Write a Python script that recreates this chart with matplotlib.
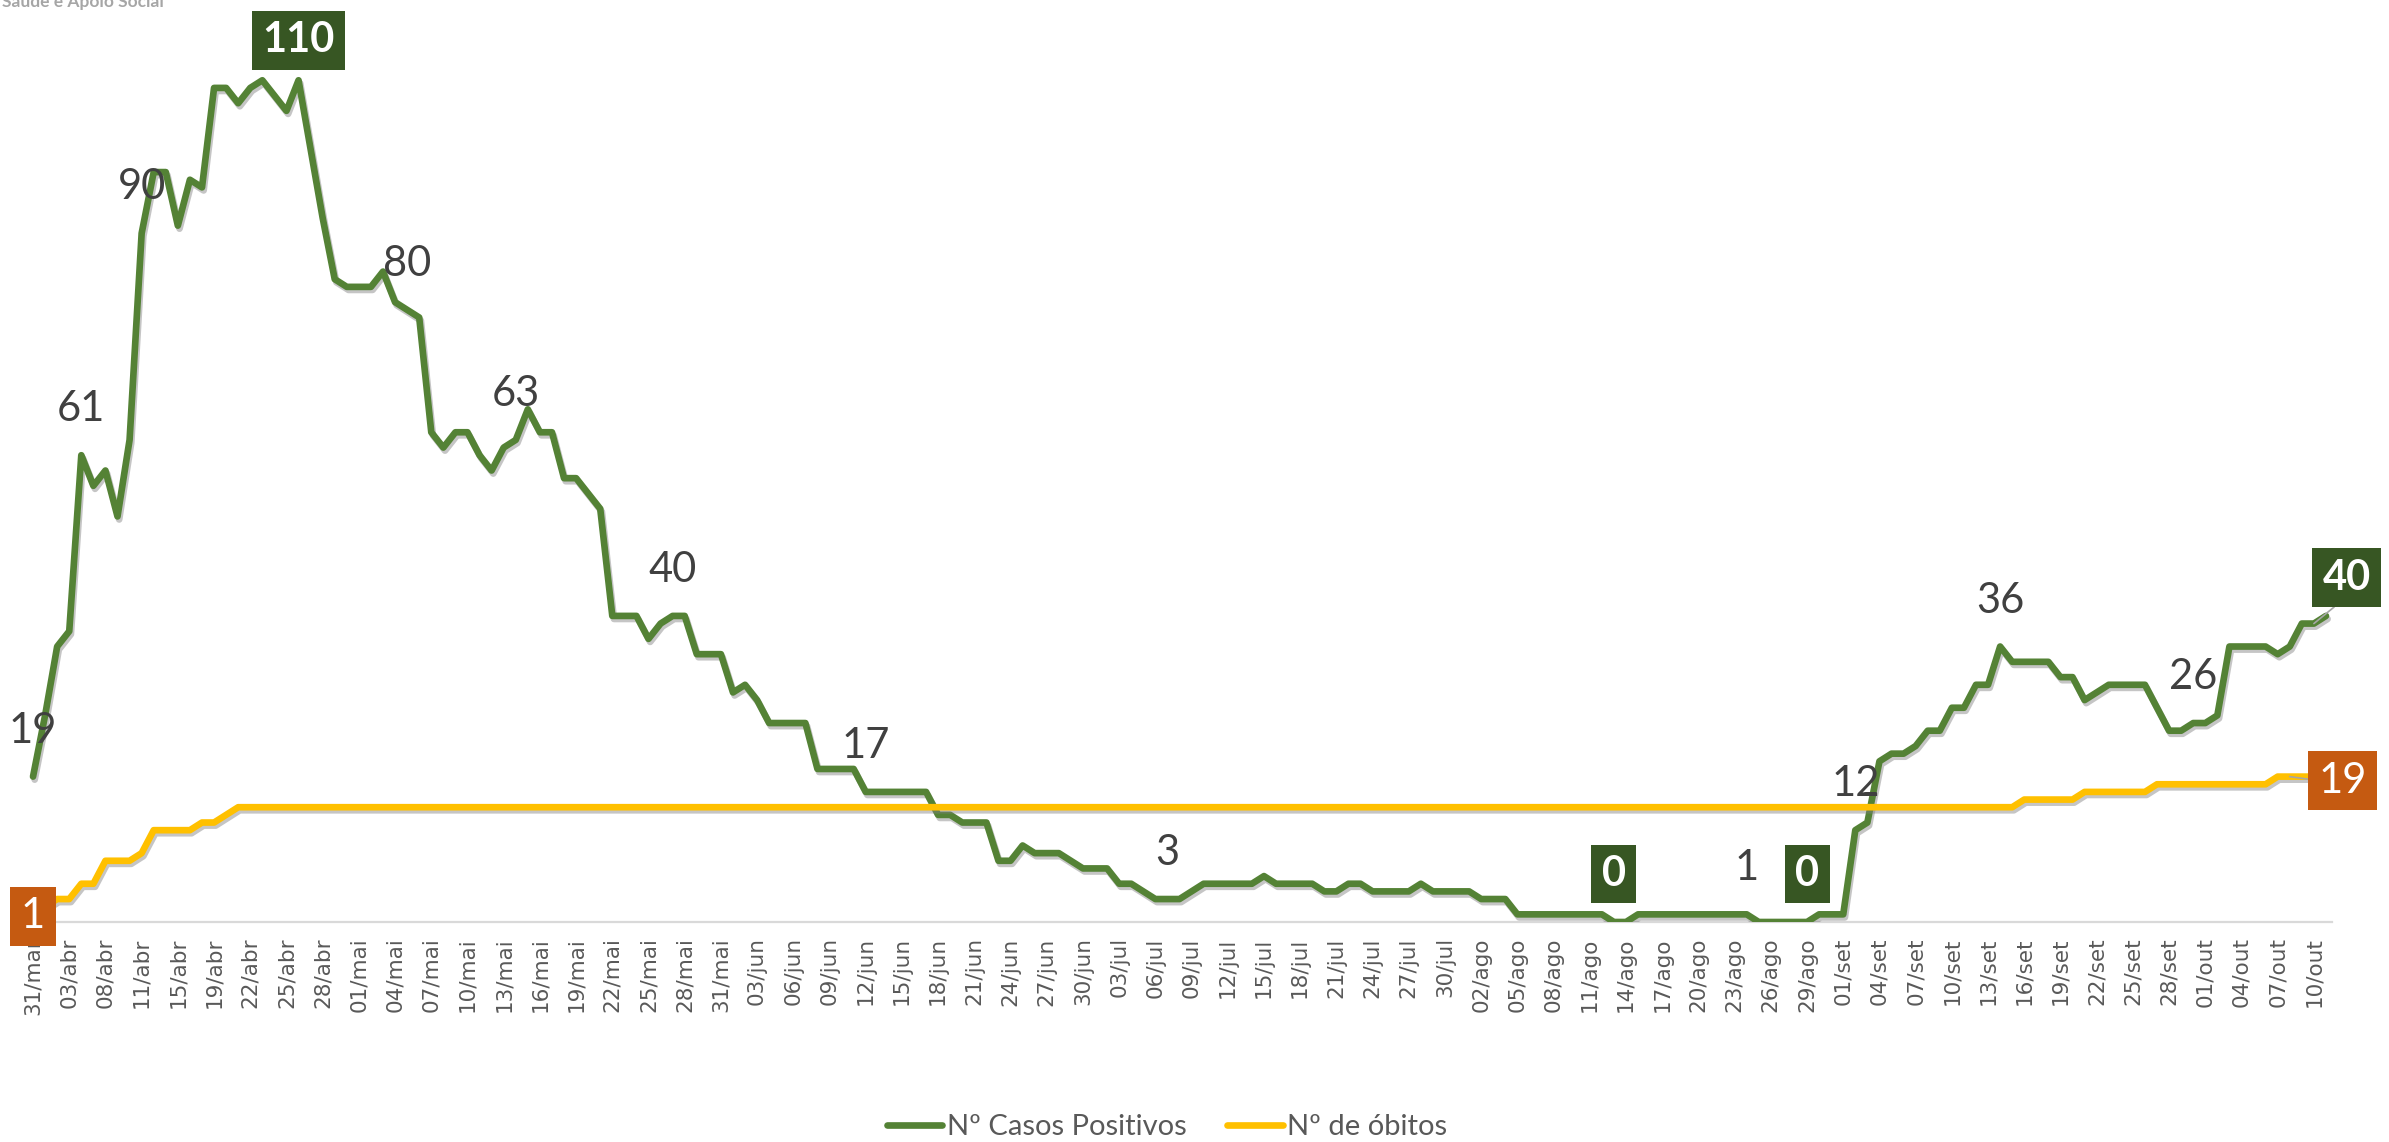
import numpy as np
import matplotlib
matplotlib.use('Agg')
import matplotlib.pyplot as plt
import matplotlib.patheffects as pe
from matplotlib.lines import Line2D

### Data (one point per reported day, 31/mar .. 11/out)
tick_labels = ['31/mar', '03/abr', '08/abr', '11/abr', '15/abr', '19/abr', '22/abr', '25/abr',
               '28/abr', '01/mai', '04/mai', '07/mai', '10/mai', '13/mai', '16/mai', '19/mai',
               '22/mai', '25/mai', '28/mai', '31/mai', '03/jun', '06/jun', '09/jun', '12/jun',
               '15/jun', '18/jun', '21/jun', '24/jun', '27/jun', '30/jun', '03/jul', '06/jul',
               '09/jul', '12/jul', '15/jul', '18/jul', '21/jul', '24/jul', '27/jul', '30/jul',
               '02/ago', '05/ago', '08/ago', '11/ago', '14/ago', '17/ago', '20/ago', '23/ago',
               '26/ago', '29/ago', '01/set', '04/set', '07/set', '10/set', '13/set', '16/set',
               '19/set', '22/set', '25/set', '28/set', '01/out', '04/out', '07/out', '10/out']

casos = [19, 27, 36, 38, 61, 57, 59, 53, 63, 90,
         98, 98, 91, 97, 96, 109, 109, 107, 109, 110,
         108, 106, 110, 101, 92, 84, 83, 83, 83, 85,
         81, 80, 79, 64, 62, 64, 64, 61, 59, 62,
         63, 67, 64, 64, 58, 58, 56, 54, 40, 40,
         40, 37, 39, 40, 40, 35, 35, 35, 30, 31,
         29, 26, 26, 26, 26, 20, 20, 20, 20, 17,
         17, 17, 17, 17, 17, 14, 14, 13, 13, 13,
         8, 8, 10, 9, 9, 9, 8, 7, 7, 7,
         5, 5, 4, 3, 3, 3, 4, 5, 5, 5,
         5, 5, 6, 5, 5, 5, 5, 4, 4, 5,
         5, 4, 4, 4, 4, 5, 4, 4, 4, 4,
         3, 3, 3, 1, 1, 1, 1, 1, 1, 1,
         1, 0, 0, 1, 1, 1, 1, 1, 1, 1,
         1, 1, 1, 0, 0, 0, 0, 0, 1, 1,
         1, 12, 13, 21, 22, 22, 23, 25, 25, 28,
         28, 31, 31, 36, 34, 34, 34, 34, 32, 32,
         29, 30, 31, 31, 31, 31, 28, 25, 25, 26,
         26, 27, 36, 36, 36, 36, 35, 36, 39, 39,
         40]

obitos = [1, 2, 3, 3, 5, 5, 8, 8, 8, 9,
          12, 12, 12, 12, 13, 13, 14, 15, 15, 15,
          15, 15, 15, 15, 15, 15, 15, 15, 15, 15,
          15, 15, 15, 15, 15, 15, 15, 15, 15, 15,
          15, 15, 15, 15, 15, 15, 15, 15, 15, 15,
          15, 15, 15, 15, 15, 15, 15, 15, 15, 15,
          15, 15, 15, 15, 15, 15, 15, 15, 15, 15,
          15, 15, 15, 15, 15, 15, 15, 15, 15, 15,
          15, 15, 15, 15, 15, 15, 15, 15, 15, 15,
          15, 15, 15, 15, 15, 15, 15, 15, 15, 15,
          15, 15, 15, 15, 15, 15, 15, 15, 15, 15,
          15, 15, 15, 15, 15, 15, 15, 15, 15, 15,
          15, 15, 15, 15, 15, 15, 15, 15, 15, 15,
          15, 15, 15, 15, 15, 15, 15, 15, 15, 15,
          15, 15, 15, 15, 15, 15, 15, 15, 15, 15,
          15, 15, 15, 15, 15, 15, 15, 15, 15, 15,
          15, 15, 15, 15, 15, 16, 16, 16, 16, 16,
          17, 17, 17, 17, 17, 17, 18, 18, 18, 18,
          18, 18, 18, 18, 18, 18, 19, 19, 19, 19,
          19]

# which points carry a data label
plain_labels = [0, 4, 9, 31, 40, 53, 69, 94, 142, 151, 163, 179]
boxed_labels = [22, 131, 147]

### Colours
green = '#548235'
green_dark = '#375623'
yellow = '#FFC000'
orange = '#C55A11'
txt_grey = '#404040'
tick_grey = '#595959'

W, H = 2389, 1142
fig = plt.figure(figsize=(W/100, H/100), dpi=100)
ax = fig.add_axes([27/W, 220/H, 2305/W, 880/H])

x = np.arange(len(casos))
shadow = [pe.SimpleLineShadow(offset=(1.2, -2.2), shadow_color='#7f7f7f', alpha=0.45), pe.Normal()]
line_kw = dict(lw=4.8, solid_joinstyle='round', solid_capstyle='round', path_effects=shadow)
ax.plot(x, casos, color=green, zorder=3, **line_kw)
ax.plot(x, obitos, color=yellow, zorder=4, **line_kw)

ax.set_xlim(-0.5, len(casos) - 0.5)
ax.set_ylim(0, 115)
for s in ['top', 'right', 'left']:
    ax.spines[s].set_visible(False)
ax.spines['bottom'].set_color('#D9D9D9')
ax.spines['bottom'].set_linewidth(1.6)
ax.set_yticks([])
ax.set_xticks(np.arange(0, len(casos), 3), tick_labels, rotation=90,
              fontsize=15.5, color=tick_grey, family='DejaVu Sans')
ax.tick_params(axis='x', length=0, pad=11)

### Data labels
lab_kw = dict(textcoords='offset pixels', ha='center', va='center', fontsize=30,
              family='Lato', zorder=6)
for i in plain_labels:
    ax.annotate(str(casos[i]), (i, casos[i]), xytext=(0, 46), color=txt_grey, **lab_kw)

box_green = dict(boxstyle='square,pad=0.25', fc=green_dark, ec='none')
box_orange = dict(boxstyle='square,pad=0.25', fc=orange, ec='none')
for i in boxed_labels:
    dy = 40 if casos[i] > 100 else 48
    ax.annotate(str(casos[i]), (i, casos[i]), xytext=(0, dy), color='white',
                fontweight='bold', bbox=box_green, **lab_kw)

# last values with leader lines
n = len(casos) - 1
ax.annotate(str(casos[n]), (n - 1, casos[n - 1]), xytext=(33, 46), color='white',
            fontweight='bold', bbox=box_green,
            arrowprops=dict(arrowstyle='-', color='#A6A6A6', lw=1.2, relpos=(0.5, 0),
                            shrinkA=0, shrinkB=0), **lab_kw)
ax.annotate(str(obitos[n]), (n - 3, obitos[n - 3]), xytext=(53, -4), color='white',
            bbox=box_orange,
            arrowprops=dict(arrowstyle='-', color='#A6A6A6', lw=1.2, relpos=(0, 0.5),
                            shrinkA=0, shrinkB=0), **lab_kw)
ax.annotate(str(obitos[0]), (0, obitos[0]), xytext=(0, -2), color='white',
            bbox=box_orange, **lab_kw)

### Legend
handles = [Line2D([], [], color=green, lw=4.8, solid_capstyle='round'),
           Line2D([], [], color=yellow, lw=4.8, solid_capstyle='round')]
fig.legend(handles, ['Nº Casos Positivos', 'Nº de óbitos'], loc='center',
           bbox_to_anchor=(0.4885, 15/H), ncol=2, frameon=False,
           prop={'family': 'Lato', 'size': 21}, labelcolor=tick_grey,
           handlelength=1.9, handletextpad=0.15, columnspacing=1.4)

# page header, cut by the top edge as in the source
fig.text(2/W, 1 - 7/H, 'Saúde e Apoio Social', fontsize=12.5, family='Lato',
         fontweight='bold', color='#A6A6A6', va='baseline', ha='left')

fig.savefig('out.png', dpi=100)
